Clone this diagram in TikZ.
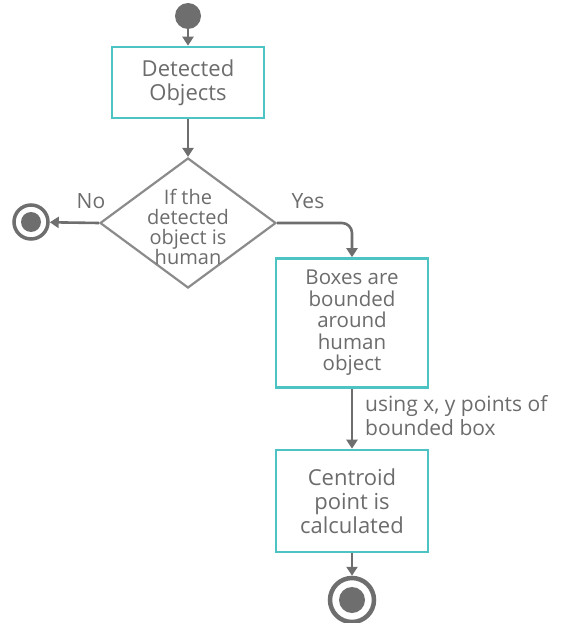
\documentclass[tikz,border=0pt]{standalone}
\usepackage{fontspec}
\setmainfont{Open Sans}
\usetikzlibrary{shapes.geometric,arrows.meta}
\definecolor{boxteal}{HTML}{4EC3C3}
\definecolor{linegray}{HTML}{6E6E6E}
\definecolor{textgray}{HTML}{6C6C6C}
\begin{document}
\begin{tikzpicture}[x=1pt,y=-1pt,
  stepbox/.style={draw=boxteal,line width=2.6pt,fill=white,rectangle,
    minimum width=152pt,inner sep=0pt,align=center,text=textgray,
    font=\fontsize{22}{24}\selectfont},
  decision/.style={draw=linegray!80,line width=2.2pt,diamond,inner sep=0pt,
    minimum width=176pt,minimum height=130pt},
  txt/.style={text=textgray,font=\fontsize{21}{24}\selectfont,align=center,inner sep=0pt},
  flow/.style={draw=linegray,line width=2.6pt,-{Triangle[width=11pt,length=9pt]}},
  startdot/.style={circle,fill=linegray,inner sep=0pt},
  enddot/.style={circle,draw=linegray,fill=white,inner sep=0pt}
]
\useasboundingbox (0,0) rectangle (580,623);

% start and end markers
\node[startdot,minimum size=26pt] (start) at (188,16) {};
\node[enddot,line width=3.5pt,minimum size=34pt] (endL) at (31,222) {};
\fill[linegray] (endL.center) circle (10pt);
\node[enddot,line width=4.5pt,minimum size=44pt] (endB) at (352,600) {};
\fill[linegray] (endB.center) circle (13pt);

% process boxes
\node[stepbox,minimum height=71pt] (detect) at (188,82.5) {Detected\\Objects};
\node[decision] (dec) at (188,223) {};
\node[txt,font=\fontsize{20}{20}\selectfont] (dectext) at (188,227) {If the\\detected\\object is\\human};
\node[stepbox,minimum height=129pt,font=\fontsize{20.5}{21.5}\selectfont] (boxes) at (352,323) {Boxes are\\bounded\\around\\human\\object};
\node[stepbox,minimum height=102pt] (centroid) at (352,501) {Centroid\\point is\\calculated};

% connectors
\draw[flow] (start) -- (detect);
\draw[flow] (detect) -- (dec.north);
\draw[flow] (dec.west) -- (endL);
\draw[flow,rounded corners=10pt] (dec.east) -| (boxes.north);
\draw[flow] (boxes) -- (centroid);
\draw[flow] (centroid) -- (endB);

% labels
\node[txt] (nolab) at (91,201) {No};
\node[txt] (yeslab) at (308,201) {Yes};
\node[txt,align=left,anchor=west] (uselab) at (365,416) {using x, y points of\\bounded box};
\end{tikzpicture}
\end{document}
